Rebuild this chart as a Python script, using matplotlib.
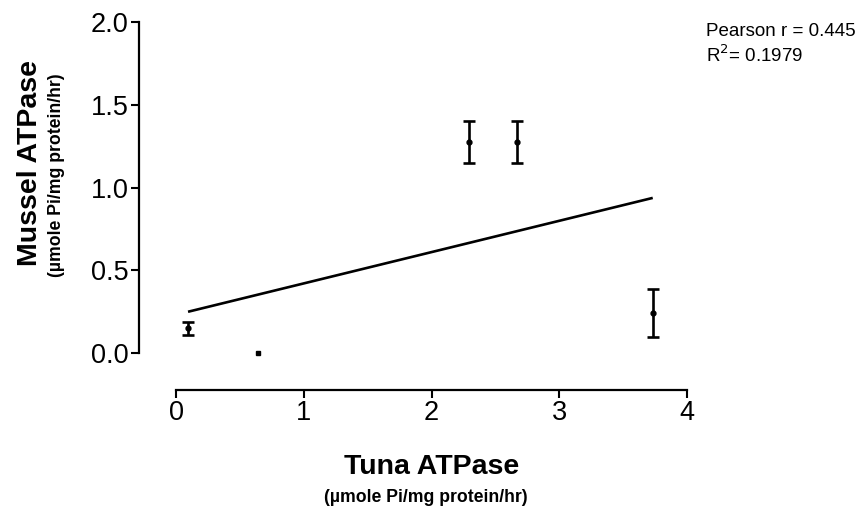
import numpy as np
import matplotlib
matplotlib.use("Agg")
import matplotlib.pyplot as plt

plt.rcParams['font.family'] = ['Liberation Sans', 'DejaVu Sans']

# Tuna vs mussel ATPase activity (µmole Pi/mg protein/hr)
tuna = [0.094, 0.64, 2.29, 2.67, 3.73]
mussel = [0.15, 0.0, 1.275, 1.275, 0.24]
mussel_err = [0.04, 0.0, 0.125, 0.125, 0.145]

x_ticks = [0, 1, 2, 3, 4]
y_ticks = [0.0, 0.5, 1.0, 1.5, 2.0]
y_tick_labels = ["0.0", "0.5", "1.0", "1.5", "2.0"]

pearson_r = 0.445
r_squared = 0.1979

fig = plt.figure(figsize=(8.65, 5.13), dpi=100)
ax = fig.add_axes([0.2035, 0.3119, 0.591, 0.6452])

x = np.array(tuna)
y = np.array(mussel)
e = np.array(mussel_err)

has_err = e > 0
ax.errorbar(x[has_err], y[has_err], yerr=e[has_err], fmt='o', color='black',
            markersize=3.5, elinewidth=1.9, capsize=4, capthick=1.9, clip_on=False)
ax.plot(x[~has_err], y[~has_err], 's', color='black', markersize=3.5, clip_on=False)

# least-squares fit across the measured range
slope, intercept = np.polyfit(x, y, 1)
xf = np.array([x.min(), x.max()])
ax.plot(xf, slope * xf + intercept, color='black', linewidth=1.9, solid_capstyle='butt')

ax.set_xlim(0, 4)
ax.set_ylim(0, 2)
ax.set_xticks(x_ticks)
ax.set_yticks(y_ticks)
ax.set_yticklabels(y_tick_labels)

for side in ('top', 'right'):
    ax.spines[side].set_visible(False)
ax.spines['left'].set_position(('outward', 27))
ax.spines['bottom'].set_position(('outward', 26.5))
for side in ('left', 'bottom'):
    ax.spines[side].set_linewidth(1.6)
ax.tick_params(axis='both', direction='out', length=5.5, width=1.5,
               labelsize=19.5, pad=1.5)

fig.text(0.035, 0.682, "Mussel ATPase", rotation=90, ha='center', va='center',
         fontsize=20.5, fontweight='bold')
fig.text(0.065, 0.659, "(µmole Pi/mg protein/hr)", rotation=90, ha='center',
         va='center', fontsize=12.7, fontweight='bold')
fig.text(0.499, 0.089, "Tuna ATPase", ha='center', va='center',
         fontsize=20.5, fontweight='bold')
fig.text(0.492, 0.031, "(µmole Pi/mg protein/hr)", ha='center', va='center',
         fontsize=12.7, fontweight='bold')

fig.text(0.816, 0.938, f"Pearson r = {pearson_r:.3f}", ha='left', va='center',
         fontsize=13.5)
fig.text(0.816, 0.893, f"R$^2$= {r_squared:.4f}", ha='left', va='center',
         fontsize=13.5)

fig.savefig("out.png", dpi=100)
